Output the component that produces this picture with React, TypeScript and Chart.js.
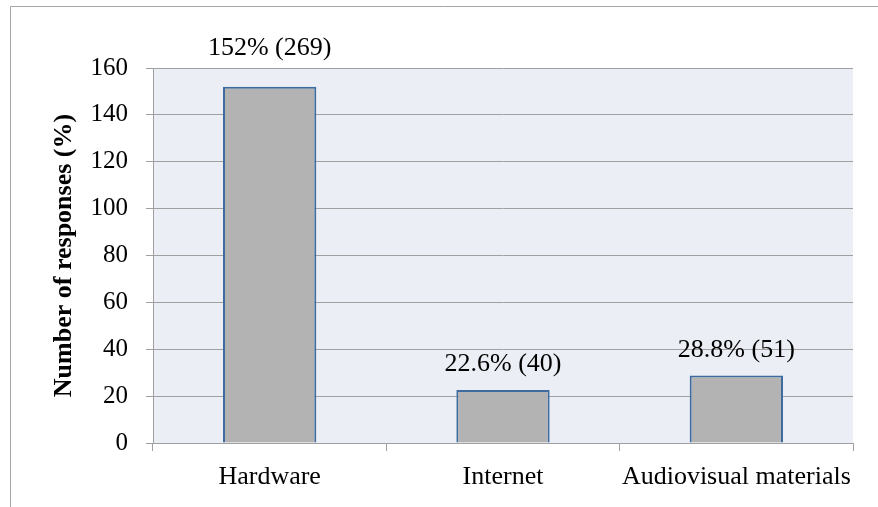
import React, { useEffect, useRef } from "react";
import { Chart, registerables } from "chart.js";

Chart.register(...registerables);

const categories = ["Hardware", "Internet", "Audiovisual materials"];
const percentValues = [152, 22.6, 28.8];
const responseCounts = [269, 40, 51];
const yTicksMax = 160;
const yTickStep = 20;
const yTitle = "Number of responses (%)";

const FONT = "'Liberation Serif', 'Times New Roman', serif";

const framePlugin = {
  id: "frame",
  beforeDraw(chart: any) {
    const ctx = chart.ctx;
    const { chartArea } = chart;
    ctx.save();
    ctx.fillStyle = "#ebeef4";
    ctx.fillRect(chartArea.left, chartArea.top, chartArea.right - chartArea.left, chartArea.bottom - chartArea.top);
    ctx.strokeStyle = "#a6a6a6";
    ctx.lineWidth = 1;
    ctx.beginPath();
    ctx.moveTo(10.5, chart.height);
    ctx.lineTo(10.5, 6.5);
    ctx.lineTo(chart.width, 6.5);
    ctx.stroke();
    ctx.restore();
  },
};

const labelPlugin = {
  id: "barLabels",
  afterDatasetsDraw(chart: any) {
    const ctx = chart.ctx;
    const meta = chart.getDatasetMeta(0);
    ctx.save();
    ctx.font = `26px ${FONT}`;
    ctx.fillStyle = "#000";
    ctx.textAlign = "center";
    ctx.textBaseline = "alphabetic";
    meta.data.forEach((bar: any, i: number) => {
      const text = `${percentValues[i]}% (${responseCounts[i]})`;
      let y = bar.y - 19;
      if (y - 20 < chart.chartArea.top) y = chart.chartArea.top - 13;
      ctx.fillText(text, bar.x, y);
    });
    ctx.restore();
  },
};

export default function App() {
  const ref = useRef<HTMLCanvasElement | null>(null);
  useEffect(() => {
    if (!ref.current) return;
    const chart = new Chart(ref.current, {
      type: "bar",
      data: {
        labels: categories,
        datasets: [
          {
            data: percentValues,
            backgroundColor: "#b3b3b3",
            borderColor: "#3f6c9f",
            borderWidth: 2,
            categoryPercentage: 1,
            barPercentage: 0.4,
          },
        ],
      },
      options: {
        animation: false,
        responsive: false,
        maintainAspectRatio: false,
        devicePixelRatio: 1,
        layout: { padding: { top: 68, right: 25, left: 0, bottom: 0 } },
        plugins: {
          legend: { display: false },
          tooltip: { enabled: false },
          title: { display: false },
        },
        scales: {
          x: {
            afterFit: (s: any) => {
              s.height = 64;
            },
            grid: {
              display: true,
              drawOnChartArea: false,
              drawTicks: true,
              tickLength: 8,
              color: "#a0a0a0",
              offset: true,
            },
            border: { display: true, color: "#a0a0a0" },
            ticks: {
              font: { family: FONT, size: 26 },
              color: "#000",
              padding: 11,
              maxRotation: 0,
              autoSkip: false,
            },
          },
          y: {
            min: 0,
            max: yTicksMax,
            afterFit: (s: any) => {
              s.width = 153;
            },
            grid: {
              color: "#a0a0a0",
              lineWidth: 1,
              drawTicks: true,
              tickLength: 7,
            },
            border: { display: true, color: "#a0a0a0" },
            ticks: {
              stepSize: yTickStep,
              font: { family: FONT, size: 25 },
              color: "#000",
              padding: 18,
            },
            title: {
              display: true,
              text: yTitle,
              font: { family: FONT, size: 26, weight: "bold" },
              color: "#000",
              padding: { top: 49, bottom: 0 },
            },
          },
        },
      },
      plugins: [framePlugin, labelPlugin],
    });
    return () => chart.destroy();
  }, []);
  return (
    <div style={{ position: "fixed", left: 0, top: 0, width: 878, height: 507, background: "#fff" }}>
      <canvas ref={ref} width={878} height={507} style={{ width: 878, height: 507, display: "block" }} />
    </div>
  );
}
